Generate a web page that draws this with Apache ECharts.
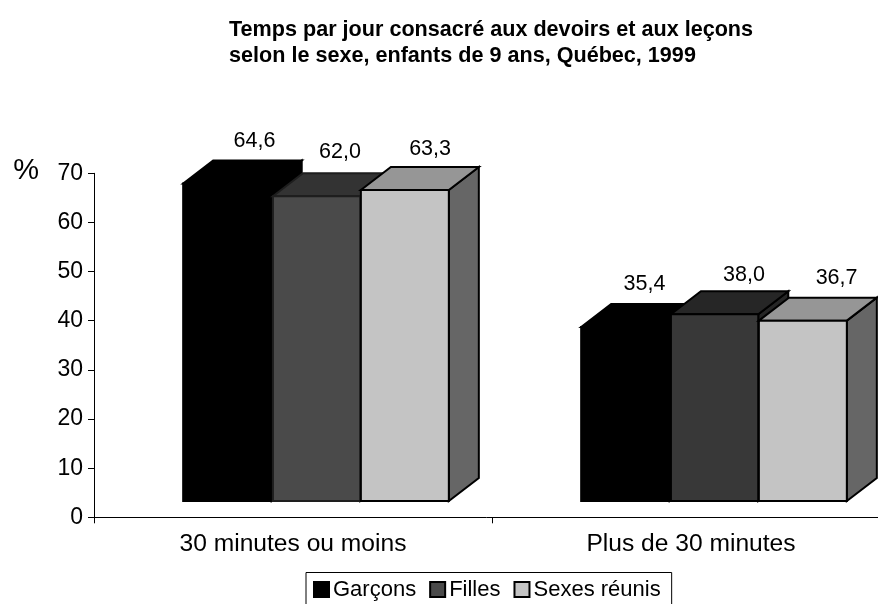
<!DOCTYPE html>
<html><head><meta charset="utf-8">
<style>html,body{margin:0;padding:0;background:#fff}#c{width:878px;height:604px}</style>
<script src="https://cdn.jsdelivr.net/npm/echarts@6/dist/echarts.min.js"></script>
</head><body><div id="c"></div>
<script>
const titleLines = ['Temps par jour consacré aux devoirs et aux leçons','selon le sexe, enfants de 9 ans, Québec, 1999'];
const categories = ['30 minutes ou moins','Plus de 30 minutes'];
const garcons = [64.6,35.4];
const filles = [62.0,38.0];
const sexes = [63.3,36.7];
const FONT = '"Liberation Sans", Arial, sans-serif';

// [front, top, side, stroke] per category
const looks = [
  [['#000000','#000000','#000000','#000000'],['#000000','#000000','#000000','#000000']],
  [['#4a4a4a','#333333','#333333','#1e1e1e'],['#383838','#262626','#262626','#000000']],
  [['#c4c4c4','#969696','#666666','#000000'],['#c4c4c4','#969696','#666666','#000000']]
];
const DX = 30, DY = 23, LIFT = 16.3, SHIFT = 23, BAR = 0.2225;
const leftInset = [0,1.2,0.6];
// small label placement adjustments, [series][category]
const labelDX = [[27,19],[24,30],[25.5,34]];
const labelDY = [[-19,-20],[-21,-16],[-18,-20]];

function renderBar(seriesIndex){
  return function(params, api){
    const cat = api.value(0), val = api.value(1);
    const top = api.coord([cat,val]), base = api.coord([cat,0]);
    const w = api.size([1,0])[0]*BAR;
    const x0 = top[0] + SHIFT - 1.5*w + seriesIndex*w, x1 = x0 + w;
    const left = x0 + leftInset[seriesIndex];
    const yT = top[1] - LIFT, yB = base[1] - LIFT;
    const [front, topC, side, stroke] = looks[seriesIndex][cat];
    const st = c => ({fill:c, stroke:stroke, lineWidth:2, lineJoin:'miter'});
    return {type:'group', children:[
      {type:'polygon', shape:{points:[[x1,yT],[x1+DX,yT-DY],[x1+DX,yB-DY],[x1,yB]]}, style:st(side)},
      {type:'polygon', shape:{points:[[left,yT],[left+DX,yT-DY],[x1+DX,yT-DY],[x1,yT]]}, style:st(topC)},
      {type:'rect', shape:{x:left,y:yT,width:x1-left,height:yB-yT}, style:st(front)},
      {type:'text', style:{text:val.toFixed(1).replace('.',','),
        x:(x0+x1)/2+labelDX[seriesIndex][cat], y:yT-DY+labelDY[seriesIndex][cat],
        align:'center', verticalAlign:'middle', fill:'#000', font:'21.5px '+FONT}}
    ]};
  };
}
const names = ['Garçons','Filles','Sexes réunis'];
const vals = [garcons,filles,sexes];
const swatch = ['#000000','#4a4a4a','#c4c4c4'];
const chart = echarts.init(document.getElementById('c'),null,{renderer:'canvas'});
chart.setOption({
  animation:false,
  backgroundColor:'#fff',
  title:{text:titleLines.join('\n'), left:224, top:12,
    textStyle:{fontFamily:FONT,fontSize:21.6,fontWeight:'bold',color:'#000',lineHeight:26}},
  grid:{left:94,width:796,top:173.3,height:344,outerBoundsMode:'none',containLabel:false},
  xAxis:{type:'category',data:categories,boundaryGap:true,
    axisLine:{lineStyle:{color:'#000',width:1}},
    axisTick:{show:true,alignWithLabel:false,length:6,lineStyle:{color:'#000'}},
    axisLabel:{fontFamily:FONT,fontSize:24.6,color:'#000',margin:14,interval:0},
    splitLine:{show:false}},
  yAxis:{type:'value',min:0,max:70,interval:10,
    name:'%',nameLocation:'end',nameGap:-12,
    nameTextStyle:{fontFamily:FONT,fontSize:29,color:'#000',align:'right',padding:[0,55,0,0]},
    axisLine:{show:true,lineStyle:{color:'#000',width:1}},
    axisTick:{show:true,length:6,lineStyle:{color:'#000'}},
    axisLabel:{fontFamily:FONT,fontSize:23,color:'#000',margin:11},
    splitLine:{show:false}},
  legend:{left:306,top:572.5,orient:'horizontal',
    data:names.map((n,i)=>({name:n,icon:'rect',itemStyle:{color:swatch[i],borderColor:'#000',borderWidth:2}})),
    itemWidth:15,itemHeight:15,itemGap:13,
    padding:[6,11,20,7],borderColor:'#000',borderWidth:1,
    textStyle:{fontFamily:FONT,fontSize:22,color:'#000',padding:[0,0,0,-1]}},
  series:names.map((n,i)=>({
    type:'custom',name:n,coordinateSystem:'cartesian2d',
    renderItem:renderBar(i),
    itemStyle:{color:swatch[i]},
    data:vals[i].map((v,c)=>[c,v]),
    encode:{x:0,y:1},
    clip:false
  }))
});
</script></body></html>
